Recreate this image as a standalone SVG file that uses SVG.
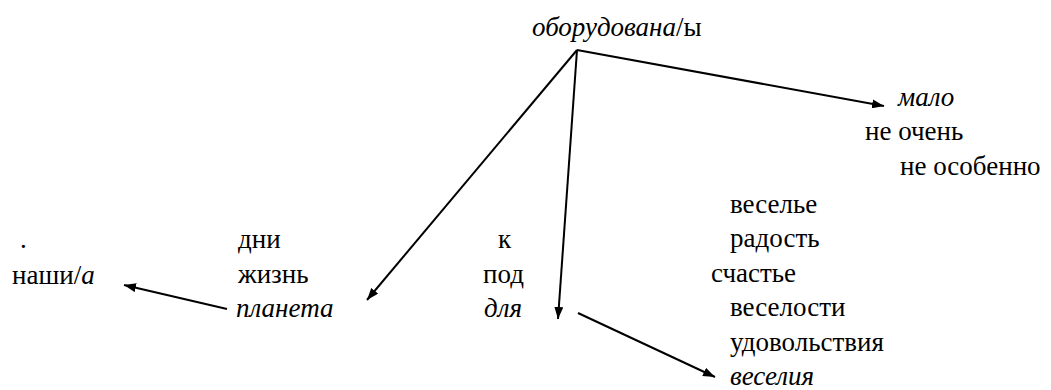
<svg xmlns="http://www.w3.org/2000/svg" width="1051" height="390" viewBox="0 0 1051 390">
<style>
text{font-family:"Liberation Serif","Times New Roman",serif;font-size:27px;fill:#000}
.i{font-style:italic}
.c{stroke:#000;stroke-width:2;fill:none}
</style>
<defs>
<marker id="ah" viewBox="0 0 12 9" refX="12" refY="4.5" markerWidth="12" markerHeight="9" markerUnits="userSpaceOnUse" orient="auto">
<path d="M0,0 L12,4.5 L0,9 z" fill="#000"/>
</marker>
</defs>
<rect width="1051" height="390" fill="#fff"/>
<g id="connectors">
<line class="c" x1="577" y1="50" x2="884" y2="106" marker-end="url(#ah)"/>
<line class="c" x1="577" y1="50" x2="367" y2="300" marker-end="url(#ah)"/>
<line class="c" x1="577" y1="50" x2="558" y2="319" marker-end="url(#ah)"/>
<line class="c" x1="578" y1="313" x2="715" y2="377" marker-end="url(#ah)"/>
<line class="c" x1="227" y1="309" x2="124" y2="285" marker-end="url(#ah)"/>
</g>
<g id="n-root"><text x="532" y="36"><tspan class="i">оборудована</tspan>/ы</text></g>
<g id="n-malo"><text class="i" x="898" y="106">мало</text></g>
<g id="n-neochen"><text x="865" y="140">не очень</text></g>
<g id="n-neosobenno"><text x="900" y="175">не особенно</text></g>
<g id="n-dot"><text x="20" y="248">.</text></g>
<g id="n-nashi"><text x="12" y="284">наши/<tspan class="i">а</tspan></text></g>
<g id="n-dni"><text x="238" y="248">дни</text></g>
<g id="n-zhizn"><text x="238" y="283">жизнь</text></g>
<g id="n-planeta"><text class="i" x="236" y="317">планета</text></g>
<g id="n-k"><text x="498" y="248">к</text></g>
<g id="n-pod"><text x="483" y="283">под</text></g>
<g id="n-dlya"><text class="i" x="484" y="317">для</text></g>
<g id="n-vesele"><text x="730" y="213">веселье</text></g>
<g id="n-radost"><text x="730" y="247">радость</text></g>
<g id="n-schaste"><text x="711" y="282">счастье</text></g>
<g id="n-veselosti"><text x="730" y="316">веселости</text></g>
<g id="n-udovolstviya"><text x="730" y="351">удовольствия</text></g>
<g id="n-veseliya"><text class="i" x="730" y="385">веселия</text></g>
</svg>
